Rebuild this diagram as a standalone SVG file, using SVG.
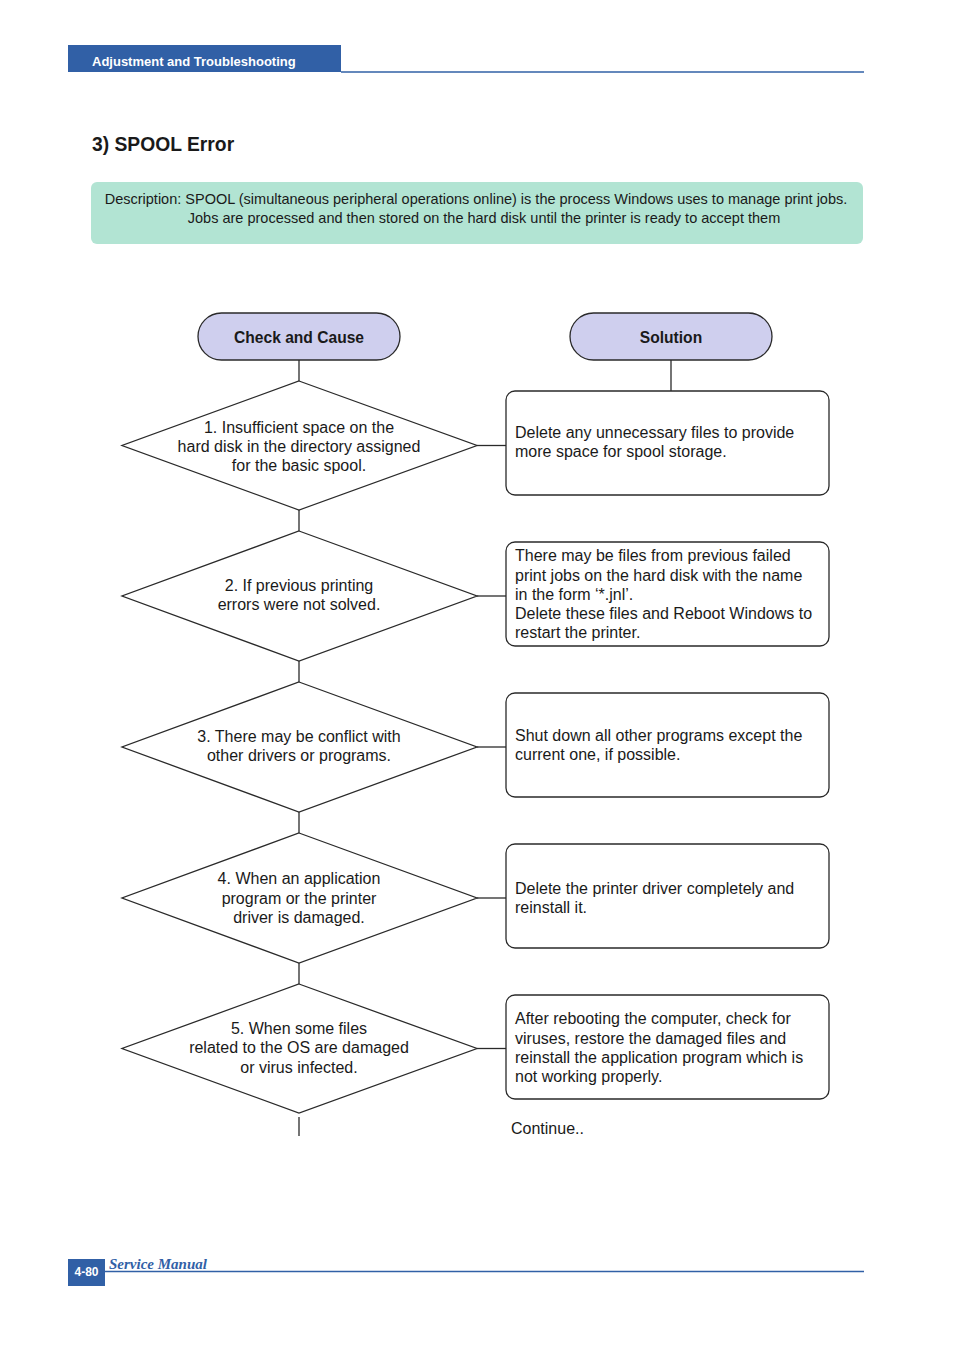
<svg xmlns="http://www.w3.org/2000/svg" width="954" height="1351" viewBox="0 0 954 1351">
<style>
text{font-family:"Liberation Sans",Arial,sans-serif;fill:#1a1a1a}
.ln{stroke:#2a2a2a;stroke-width:1.3;fill:none}
.sh{fill:#fff;stroke:#2a2a2a;stroke-width:1.3}
.pill{fill:#cfcfee;stroke:#2a2a2a;stroke-width:1.3}
.t{font-size:16px}
.c{text-anchor:middle}
.hd{font-size:15.6px;font-weight:bold;text-anchor:middle}
</style>
<rect width="954" height="1351" fill="#fff"/>
<g id="header">
<rect x="68" y="45" width="273" height="27" fill="#3160a6"/>
<line x1="341" y1="72" x2="864" y2="72" stroke="#3160a6" stroke-width="1.5"/>
<text x="92" y="66" font-size="13" font-weight="bold" style="fill:#fff">Adjustment and Troubleshooting</text>
</g>
<text id="title" x="92" y="151" font-size="19.3" font-weight="bold">3) SPOOL Error</text>
<g id="description">
<rect x="91" y="182" width="772" height="62" rx="6" fill="#b2e4d3"/>
<text class="c" x="476" y="204" font-size="14.5">Description: SPOOL (simultaneous peripheral operations online) is the process Windows uses to manage print jobs.</text>
<text class="c" x="484" y="223" font-size="14.5">Jobs are processed and then stored on the hard disk until the printer is ready to accept them</text>
</g>
<g id="connectors">
<line class="ln" x1="299" y1="360" x2="299" y2="381"/>
<line class="ln" x1="299" y1="510" x2="299" y2="531"/>
<line class="ln" x1="299" y1="661" x2="299" y2="682"/>
<line class="ln" x1="299" y1="812" x2="299" y2="833"/>
<line class="ln" x1="299" y1="963" x2="299" y2="984"/>
<line class="ln" x1="299" y1="1117" x2="299" y2="1136"/>
<line class="ln" x1="671" y1="360" x2="671" y2="391"/>
<line class="ln" x1="477" y1="445.5" x2="506" y2="445.5"/>
<line class="ln" x1="477" y1="596" x2="506" y2="596"/>
<line class="ln" x1="477" y1="747" x2="506" y2="747"/>
<line class="ln" x1="477" y1="898" x2="506" y2="898"/>
<line class="ln" x1="477" y1="1048.5" x2="506" y2="1048.5"/>
</g>
<g id="check-cause">
<rect class="pill" x="198" y="313" width="202" height="47" rx="23.5"/>
<text class="hd" x="299" y="343">Check and Cause</text>
</g>
<g id="solution">
<rect class="pill" x="570" y="313" width="202" height="47" rx="23.5"/>
<text class="hd" x="671" y="343">Solution</text>
</g>
<g id="cause1">
<polygon class="sh" points="299,381 477,445.5 299,510 122,445.5"/>
<text class="t c" x="299" y="433">1. Insufficient space on the</text>
<text class="t c" x="299" y="452">hard disk in the directory assigned</text>
<text class="t c" x="299" y="471">for the basic spool.</text>
</g>
<g id="cause2">
<polygon class="sh" points="299,531 477,596 299,661 122,596"/>
<text class="t c" x="299" y="591">2. If previous printing</text>
<text class="t c" x="299" y="610">errors were not solved.</text>
</g>
<g id="cause3">
<polygon class="sh" points="299,682 477,747 299,812 122,747"/>
<text class="t c" x="299" y="742">3. There may be conflict with</text>
<text class="t c" x="299" y="761">other drivers or programs.</text>
</g>
<g id="cause4">
<polygon class="sh" points="299,833 477,898 299,963 122,898"/>
<text class="t c" x="299" y="884">4. When an application</text>
<text class="t c" x="299" y="904">program or the printer</text>
<text class="t c" x="299" y="923">driver is damaged.</text>
</g>
<g id="cause5">
<polygon class="sh" points="299,984 477,1048.5 299,1113 122,1048.5"/>
<text class="t c" x="299" y="1034">5. When some files</text>
<text class="t c" x="299" y="1053">related to the OS are damaged</text>
<text class="t c" x="299" y="1073">or virus infected.</text>
</g>
<g id="solution1">
<rect class="sh" x="506" y="391" width="323" height="104" rx="9"/>
<text class="t" x="515" y="438">Delete any unnecessary files to provide</text>
<text class="t" x="515" y="457">more space for spool storage.</text>
</g>
<g id="solution2">
<rect class="sh" x="506" y="542" width="323" height="104" rx="9"/>
<text class="t" x="515" y="561">There may be files from previous failed</text>
<text class="t" x="515" y="581">print jobs on the hard disk with the name</text>
<text class="t" x="515" y="600">in the form ‘*.jnl’.</text>
<text class="t" x="515" y="619">Delete these files and Reboot Windows to</text>
<text class="t" x="515" y="638">restart the printer.</text>
</g>
<g id="solution3">
<rect class="sh" x="506" y="693" width="323" height="104" rx="9"/>
<text class="t" x="515" y="741">Shut down all other programs except the</text>
<text class="t" x="515" y="760">current one, if possible.</text>
</g>
<g id="solution4">
<rect class="sh" x="506" y="844" width="323" height="104" rx="9"/>
<text class="t" x="515" y="894">Delete the printer driver completely and</text>
<text class="t" x="515" y="913">reinstall it.</text>
</g>
<g id="solution5">
<rect class="sh" x="506" y="995" width="323" height="104" rx="9"/>
<text class="t" x="515" y="1024">After rebooting the computer, check for</text>
<text class="t" x="515" y="1044">viruses, restore the damaged files and</text>
<text class="t" x="515" y="1063">reinstall the application program which is</text>
<text class="t" x="515" y="1082">not working properly.</text>
</g>
<text id="continue" class="t" x="511" y="1134">Continue..</text>
<g id="footer">
<rect x="68" y="1259" width="37" height="27" fill="#3160a6"/>
<text x="86.5" y="1276" font-size="12" font-weight="bold" text-anchor="middle" style="fill:#fff">4-80</text>
<line x1="105" y1="1271.5" x2="864" y2="1271.5" stroke="#3160a6" stroke-width="1.3"/>
<text x="109" y="1269" font-size="15" font-style="italic" font-weight="bold" style="fill:#3160a6;font-family:'Liberation Serif','Times New Roman',serif">Service Manual</text>
</g>
</svg>
